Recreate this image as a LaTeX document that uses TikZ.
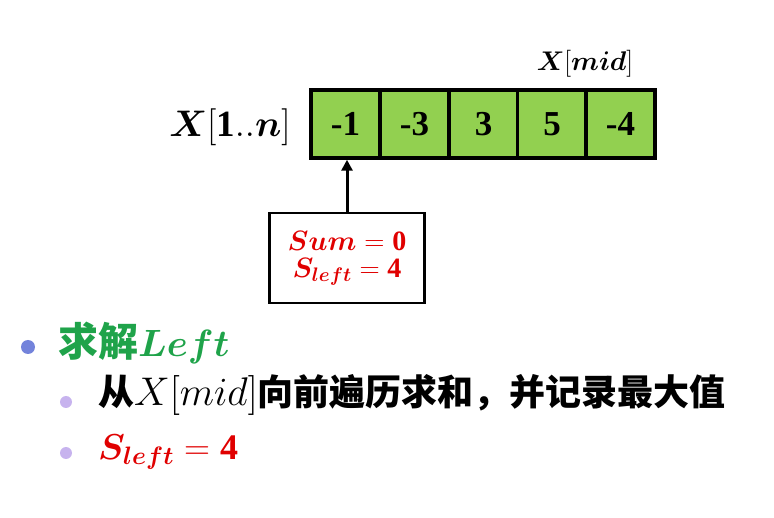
\RequirePackage{fix-cm}
\documentclass[tikz,border=0pt]{standalone}
\usepackage{fontspec}
\usepackage{amsmath,bm}
\setmainfont{Liberation Serif}
\newfontfamily\cjk{Noto Sans CJK SC}
\usetikzlibrary{arrows.meta}
\definecolor{cellgreen}{HTML}{92D050}
\definecolor{myred}{HTML}{E00000}
\definecolor{mygreen}{HTML}{1FA34A}
\definecolor{bulblue}{HTML}{7383DB}
\definecolor{bullilac}{HTML}{C7B3EE}
\begin{document}
\begin{tikzpicture}[x=1pt,y=-1pt,
  cell/.style={draw, line width=3.5pt, fill=cellgreen, minimum width=69pt, minimum height=68pt, inner sep=0pt, font=\fontsize{35}{35}\selectfont\bfseries},
  infobox/.style={draw, line width=2.5pt, minimum width=155pt, minimum height=90pt, inner sep=0pt, align=center, text=myred, font=\fontsize{28}{30}\selectfont},
  bigdot/.style={circle, fill=bulblue, minimum size=14pt, inner sep=0pt},
  smalldot/.style={circle, fill=bullilac, minimum size=12pt, inner sep=0pt},
  arr/.style={line width=3pt, -{Triangle[length=11pt,width=11pt]}}]
\useasboundingbox (0,0) rectangle (774,518);
\node[cell] (c1) at (345.5,124) {-1};
\node[cell] (c2) at (414.5,124) {-3};
\node[cell] (c3) at (483.5,124) {3};
\node[cell] (c4) at (552,124) {5};
\node[cell] (c5) at (620.5,124) {-4};
\node[font=\fontsize{37}{37}\selectfont] (lab) at (230,127) {$\boldsymbol{X}[\mathbf{1}..\boldsymbol{n}]$};
\node[font=\fontsize{27}{28}\selectfont] (mid) at (585,64) {$\boldsymbol{X}[\boldsymbol{mid}]$};
\node[infobox] (box) at (347,258) {$\boldsymbol{Sum}=\mathbf{0}$\\[-3pt]$\boldsymbol{S_{left}}=\mathbf{4}$};
\draw[arr] (box.north) -- (box.north |- c1.south);
\node[bigdot] (b1) at (28,347) {};
\node[anchor=west, text=mygreen, inner sep=0pt] (t1) at (58,343) {{\fontsize{40}{42}\selectfont\cjk\bfseries 求解}{\fontsize{38}{40}\selectfont$\boldsymbol{Left}$}};
\node[smalldot] (b2) at (66,402) {};
\node[anchor=west, inner sep=0pt, font=\fontsize{36}{38}\selectfont] (t2) at (98,395) {{\cjk\bfseries 从}{\fontsize{40}{40}\selectfont$X[mid]$}{\cjk\bfseries 向前遍历求和，并记录最大值}};
\node[smalldot] (b3) at (66,453) {};
\node[anchor=west, text=myred, font=\fontsize{36}{38}\selectfont, inner sep=0pt] (t3) at (98,452) {$\boldsymbol{S_{left}}=\mathbf{4}$};
\end{tikzpicture}
\end{document}
